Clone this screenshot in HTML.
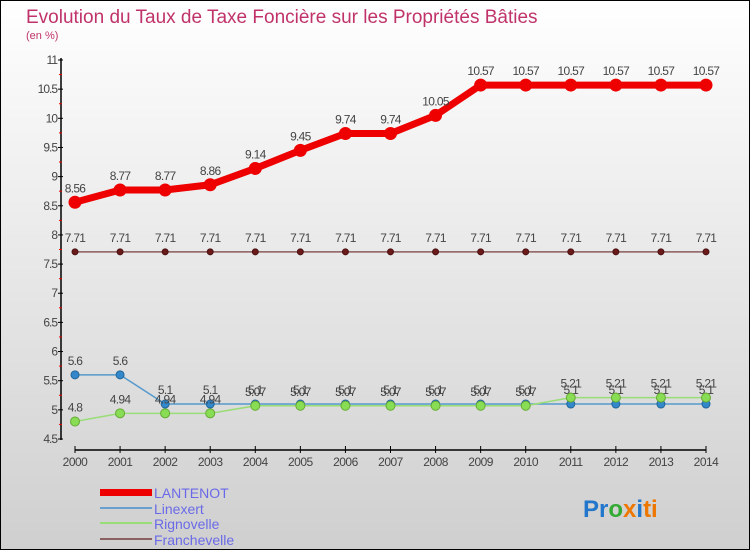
<!DOCTYPE html>
<html><head><meta charset="utf-8"><style>
html,body{margin:0;padding:0}
body{width:750px;height:550px;overflow:hidden;font-family:"Liberation Sans",sans-serif}
svg text{font-family:"Liberation Sans",sans-serif}
</style></head><body>
<svg id="chart" width="750" height="550" xmlns="http://www.w3.org/2000/svg">
<defs><linearGradient id="bg" x1="0" y1="0" x2="0" y2="1"><stop offset="0" stop-color="#ffffff"/><stop offset="1" stop-color="#cfcfcf"/></linearGradient></defs>
<rect x="0.5" y="0.5" width="749" height="549" fill="url(#bg)" stroke="#000"/>
<text x="26" y="23" font-size="19" fill="#c0336a">Evolution du Taux de Taxe Foncière sur les Propriétés Bâties</text>
<text x="26" y="39" font-size="11" fill="#c0336a">(en %)</text>
<g id="axes"></g>
<g id="series"></g>
<g id="legend">
<rect x="100" y="489" width="52" height="7" fill="#e00"/>
<text x="154" y="498" font-size="14" fill="#6a6ae8">LANTENOT</text>
<rect x="100" y="507" width="52" height="2" fill="#6a9fd0"/>
<text x="154" y="514" font-size="14" fill="#6a6ae8">Linexert</text>
<rect x="100" y="522" width="52" height="2" fill="#99dd77"/>
<text x="154" y="529" font-size="14" fill="#6a6ae8">Rignovelle</text>
<rect x="100" y="538" width="52" height="2" fill="#8b6060"/>
<text x="154" y="545" font-size="14" fill="#6a6ae8">Franchevelle</text>
</g>
<text x="583" y="517" font-size="24" font-weight="bold"><tspan fill="#2277cc">Pr</tspan><tspan fill="#33aa33">o</tspan><tspan fill="#ee7700">x</tspan><tspan fill="#2277cc">i</tspan><tspan fill="#ee7700">ti</tspan></text>
</svg>
<script>
const years = [2000,2001,2002,2003,2004,2005,2006,2007,2008,2009,2010,2011,2012,2013,2014];
const yTicks = [4.5,5,5.5,6,6.5,7,7.5,8,8.5,9,9.5,10,10.5,11];
const franchevelle = [7.71,7.71,7.71,7.71,7.71,7.71,7.71,7.71,7.71,7.71,7.71,7.71,7.71,7.71,7.71];
const linexert = [5.6,5.6,5.1,5.1,5.1,5.1,5.1,5.1,5.1,5.1,5.1,5.1,5.1,5.1,5.1];
const rignovelle = [4.8,4.94,4.94,4.94,5.07,5.07,5.07,5.07,5.07,5.07,5.07,5.21,5.21,5.21,5.21];
const lantenot = [8.56,8.77,8.77,8.86,9.14,9.45,9.74,9.74,10.05,10.57,10.57,10.57,10.57,10.57,10.57];

const NS="http://www.w3.org/2000/svg";
const xS = i => 75 + i*(706-75)/(years.length-1);
const yS = v => 439 - (v-4.5)*(439-60)/(11-4.5);
function mk(tag, attrs, parent){const e=document.createElementNS(NS,tag);for(const k in attrs)e.setAttribute(k,attrs[k]);parent.appendChild(e);return e;}
const axes=document.getElementById('axes');
const ya=mk('line',{x1:61,y1:58,x2:61,y2:440,stroke:'#000','stroke-width':1.5},axes);


const xa=mk('line',{x1:75,y1:450,x2:706,y2:450,stroke:'#000','stroke-width':1.5},axes);


yTicks.forEach((v,k)=>{
  const y=yS(v);
  mk('line',{x1:58,y1:y,x2:63,y2:y,stroke:'#000'},axes);
  if(k<yTicks.length-1){mk('line',{x1:59,y1:yS(v+0.25),x2:62,y2:yS(v+0.25),stroke:'#e00'},axes);}
  const t=mk('text',{x:57,y:y+4,'font-size':12,fill:'#444','text-anchor':'end','letter-spacing':'-1'},axes);
  t.textContent=String(v);
  
  
});
years.forEach((yr,i)=>{
  const x=xS(i);
  mk('line',{x1:x,y1:446,x2:x,y2:453,stroke:'#000'},axes);
  const t=mk('text',{x:x,y:466,'font-size':12,fill:'#444','text-anchor':'middle','letter-spacing':'-0.5'},axes);
  t.textContent=String(yr);
  
  
});
const sg=document.getElementById('series');
function series(name,vals,color,w,r,dot,dotStroke,fs,lc){
  const g=mk('g',{},sg);
  
  
  const pl=mk('polyline',{points:vals.map((v,i)=>xS(i)+','+yS(v)).join(' '),fill:'none',stroke:color,'stroke-width':w,'stroke-linejoin':'round'},g);
  
  
  vals.forEach((v,i)=>{
    const c=mk('circle',{cx:xS(i),cy:yS(v),r:r,fill:dot,stroke:dotStroke,'stroke-width':1},g);
    
    
    const t=mk('text',{x:xS(i),y:yS(v)-10,'font-size':fs,fill:lc,'text-anchor':'middle','letter-spacing':'-0.7'},g);
    t.textContent=String(v);
    
    
  });
}
series('franchevelle',franchevelle,'#8b5a5a',1.5,3,'#6b1a1a','#4a1010',12,'#444');
series('linexert',linexert,'#5599cc',1.5,4,'#3388cc','#226699',12,'#444');
series('rignovelle',rignovelle,'#99dd77',1.5,4.5,'#88dd55','#66aa33',12,'#444');
series('lantenot',lantenot,'#ee0000',7,6,'#ee0000','#ee0000',12,'#444');
</script>
</body></html>
